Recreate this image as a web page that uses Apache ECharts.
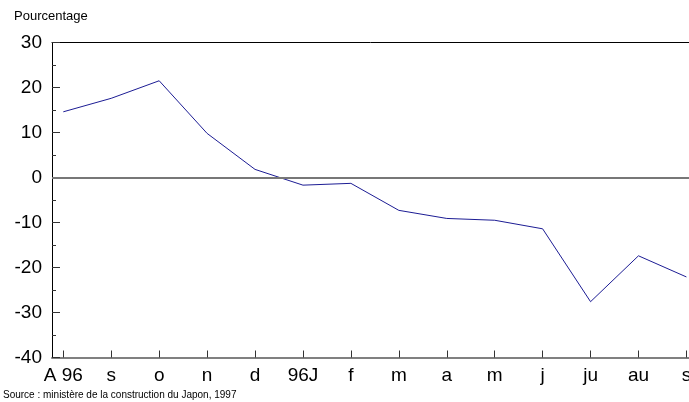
<!DOCTYPE html>
<html><head><meta charset="utf-8">
<script src="https://cdn.jsdelivr.net/npm/echarts@6/dist/echarts.min.js"></script>
<style>html,body{margin:0;padding:0;background:#fff;}#c{width:689px;height:402px;}</style>
</head><body><div id="c"></div>
<script>
var categories = ['A 96','s','o','n','d','96J','f','m','a','m','j','ju','au','s'];
var values = [14.6, 17.6, 21.5, 9.8, 1.8, -1.7, -1.3, -7.3, -9.1, -9.5, -11.4, -27.6, -17.4, -22.1];
var yTicks = [-40, -30, -20, -10, 0, 10, 20, 30];
var idx = categories.map(function(_, i){ return i; });
var font = 'Liberation Sans, Arial, sans-serif';
var chart = echarts.init(document.getElementById('c'));
chart.setOption({
  animation: false,
  backgroundColor: '#fff',
  grid: {left: 52, top: 42.5, right: 0, bottom: 44.5, containLabel: false, outerBoundsMode: 'none'},
  graphic: [
    {type: 'text', left: 14, top: 10, style: {text: 'Pourcentage', font: '13px ' + font, fill: '#000'}},
    {type: 'text', left: 3, top: 390, style: {text: 'Source : ministère de la construction du Japon, 1997', font: '10px ' + font, fill: '#000'}}
  ],
  xAxis: [{
    type: 'value', min: -0.236, max: 13.054, position: 'bottom',
    splitLine: {show: false},
    axisLine: {show: true, onZero: false, lineStyle: {color: '#808080', width: 2}},
    axisTick: {show: true, inside: true, length: 7, customValues: idx, lineStyle: {color: '#333', width: 1}},
    axisLabel: {show: true, customValues: idx, margin: 9, fontSize: 19, fontFamily: font, color: '#000',
      hideOverlap: false, showMinLabel: true, showMaxLabel: true,
      formatter: function(v){ var i = Math.round(v); return categories[i] || ''; }}
  }, {
    type: 'value', min: -0.236, max: 13.054, position: 'top',
    splitLine: {show: false},
    axisLine: {show: true, onZero: false, lineStyle: {color: '#000', width: 1}},
    axisTick: {show: false}, axisLabel: {show: false}
  }],
  yAxis: {
    type: 'value', min: -40, max: 30, interval: 10,
    splitLine: {show: false},
    axisLine: {show: true, onZero: false, lineStyle: {color: '#000', width: 1}},
    axisTick: {show: true, inside: true, length: 8, customValues: yTicks, lineStyle: {color: '#333'}},
    minorTick: {show: true, splitNumber: 2, length: 4, lineStyle: {color: '#333'}},
    axisLabel: {margin: 10, fontSize: 19, fontFamily: font, color: '#000', customValues: yTicks, showMinLabel: true, showMaxLabel: true}
  },
  series: [{
    type: 'line', xAxisIndex: 0,
    data: values.map(function(v, i){ return [idx[i], v]; }),
    symbol: 'none',
    lineStyle: {color: '#1c1c94', width: 1},
    markLine: {silent: true, symbol: 'none', label: {show: false},
      lineStyle: {color: '#777', width: 2, type: 'solid'},
      data: [{yAxis: 0}]}
  }]
});
</script></body></html>
